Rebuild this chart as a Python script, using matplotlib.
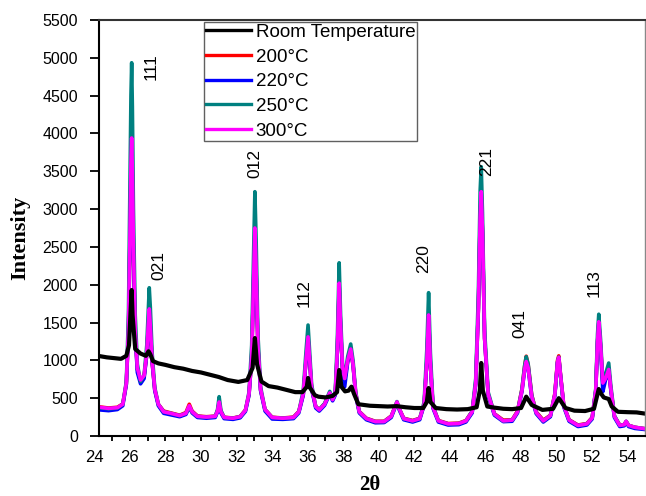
import matplotlib
matplotlib.use("Agg")
import matplotlib.pyplot as plt
from matplotlib.ticker import MultipleLocator
from matplotlib.transforms import blended_transform_factory, offset_copy

plt.rcParams["font.family"] = ["Liberation Sans", "DejaVu Sans"]

# 2-theta grid shared by the annealed samples
two_theta = [
    24.3, 24.8, 25.3, 25.6, 25.8, 25.92, 26.0, 26.06, 26.1, 26.14,
    26.2, 26.3, 26.42, 26.6, 26.8, 26.95, 27.03, 27.09, 27.15, 27.25,
    27.4, 27.6, 27.9, 28.3, 28.8, 29.15, 29.34, 29.5, 29.8, 30.3,
    30.8, 30.93, 31.02, 31.12, 31.3, 31.8, 32.2, 32.5, 32.7, 32.85,
    32.95, 33.03, 33.1, 33.2, 33.35, 33.6, 34.0, 34.6, 35.2, 35.5,
    35.75, 35.9, 36.02, 36.1, 36.22, 36.45, 36.65, 36.95, 37.24, 37.4,
    37.55, 37.67, 37.77, 37.85, 37.96, 38.08, 38.25, 38.42, 38.55, 38.7,
    38.9, 39.3, 39.8, 40.3, 40.7, 40.9, 41.02, 41.15, 41.4, 41.9,
    42.3, 42.55, 42.7, 42.8, 42.9, 43.05, 43.35, 43.9, 44.5, 44.9,
    45.25, 45.45, 45.6, 45.7, 45.76, 45.83, 45.95, 46.15, 46.5, 47.0,
    47.5, 47.8, 48.05, 48.2, 48.29, 48.4, 48.6, 48.85, 49.25, 49.65,
    49.9, 50.05, 50.12, 50.22, 50.4, 50.7, 51.2, 51.7, 52.0, 52.2,
    52.3, 52.37, 52.47, 52.6, 52.75, 52.93, 53.05, 53.25, 53.55, 53.8,
    53.91, 54.05, 54.4, 55.0,
]

i_200 = [
    385, 370, 380, 425, 690, 1350, 2500, 3450, 3800, 3400,
    2400, 1350, 880, 720, 790, 1080, 1420, 1640, 1420, 980,
    610, 420, 330, 305, 275, 310, 420, 330, 265, 255,
    262, 330, 440, 320, 248, 238, 258, 345, 550, 1030,
    1950, 2700, 2150, 1180, 610, 350, 248, 238, 250, 325,
    550, 980, 1290, 1030, 630, 390, 348, 425, 565, 480,
    555, 1130, 1980, 1420, 880, 740, 990, 1130, 940, 555,
    325, 235, 195, 195, 265, 380, 445, 360, 235, 205,
    235, 415, 980, 1570, 940, 380, 205, 165, 170, 205,
    325, 700, 1680, 2870, 3190, 2680, 1290, 550, 295, 210,
    215, 330, 620, 920, 1055, 940, 540, 320, 210, 275,
    560, 1000, 1060, 810, 405, 215, 145, 165, 245, 600,
    1230, 1490, 1190, 695, 750, 870, 615, 260, 145, 150,
    190, 140, 115, 95,
]

i_220 = [
    345, 335, 350, 400, 680, 1380, 2550, 3550, 3900, 3450,
    2450, 1350, 840, 690, 760, 1080, 1430, 1660, 1430, 980,
    600, 400, 300, 280, 255, 285, 380, 305, 245, 235,
    245, 320, 430, 305, 230, 220, 240, 325, 540, 1030,
    1980, 2720, 2180, 1180, 600, 330, 225, 220, 230, 305,
    540, 980, 1290, 1030, 620, 370, 330, 405, 555, 465,
    540, 1130, 2000, 1420, 870, 650, 980, 1140, 940, 540,
    305, 215, 175, 178, 245, 365, 440, 345, 215, 185,
    215, 410, 990, 1590, 940, 365, 185, 145, 150, 185,
    305, 690, 1690, 2890, 3210, 2690, 1290, 535, 275, 190,
    195, 305, 590, 870, 1000, 890, 505, 295, 185, 255,
    535, 970, 1030, 790, 385, 195, 125, 145, 225, 590,
    1240, 1500, 1180, 586, 740, 870, 600, 245, 125, 135,
    180, 125, 100, 85,
]

i_250 = [
    375, 360, 370, 420, 720, 1600, 3200, 4500, 4935, 4350,
    3000, 1600, 950, 720, 800, 1200, 1650, 1960, 1700, 1100,
    640, 420, 320, 300, 270, 300, 390, 320, 260, 250,
    260, 350, 520, 340, 245, 235, 255, 340, 580, 1200,
    2350, 3230, 2600, 1350, 650, 350, 245, 235, 245, 320,
    600, 1100, 1467, 1150, 680, 390, 350, 430, 590, 490,
    580, 1300, 2290, 1600, 950, 760, 1050, 1216, 1000, 580,
    320, 230, 190, 190, 260, 380, 455, 360, 230, 200,
    230, 450, 1150, 1895, 1100, 400, 200, 160, 165, 200,
    330, 760, 1900, 3250, 3560, 2950, 1400, 580, 290, 200,
    210, 320, 620, 930, 1049, 950, 540, 310, 200, 270,
    550, 980, 1045, 800, 400, 210, 140, 160, 240, 620,
    1350, 1610, 1280, 720, 820, 965, 660, 270, 140, 150,
    195, 140, 115, 95,
]

i_300 = [
    380, 365, 375, 420, 700, 1400, 2600, 3600, 3940, 3500,
    2500, 1400, 900, 740, 800, 1100, 1450, 1680, 1450, 1000,
    620, 420, 320, 300, 270, 300, 400, 320, 260, 250,
    260, 330, 450, 320, 245, 235, 255, 340, 560, 1050,
    2000, 2750, 2200, 1200, 620, 350, 245, 235, 245, 320,
    560, 1000, 1310, 1050, 640, 390, 345, 420, 570, 480,
    560, 1150, 2020, 1450, 900, 760, 1000, 1150, 950, 560,
    320, 230, 190, 190, 260, 380, 450, 360, 230, 200,
    230, 420, 1000, 1600, 950, 380, 200, 160, 165, 200,
    320, 700, 1700, 2900, 3230, 2700, 1300, 550, 290, 200,
    210, 320, 600, 880, 985, 900, 520, 310, 200, 270,
    550, 980, 1040, 800, 400, 210, 140, 160, 240, 600,
    1250, 1510, 1200, 700, 760, 880, 620, 260, 140, 150,
    195, 140, 115, 95,
]

# room temperature sample (as deposited)
two_theta_rt = [
    24.2, 24.7, 25.1, 25.5, 25.8, 25.95, 26.05, 26.1, 26.15, 26.3,
    26.6, 26.9, 27.05, 27.15, 27.3, 27.6, 28.0, 28.5, 29.0, 29.5,
    30.0, 30.5, 31.0, 31.5, 32.1, 32.6, 32.9, 33.03, 33.15, 33.4,
    33.8, 34.3, 34.8, 35.3, 35.7, 35.95, 36.02, 36.12, 36.4, 36.6,
    37.0, 37.4, 37.65, 37.77, 37.9, 38.1, 38.3, 38.46, 38.6, 38.85,
    39.5, 40.0, 40.5, 41.0, 41.5, 42.0, 42.5, 42.7, 42.8, 42.9,
    43.2, 43.8, 44.4, 45.0, 45.5, 45.68, 45.76, 45.85, 46.1, 46.5,
    47.0, 47.5, 48.0, 48.29, 48.6, 49.2, 49.8, 50.12, 50.5, 51.0,
    51.6, 52.1, 52.37, 52.5, 52.65, 52.93, 53.1, 53.45, 54.0, 54.5,
    55.0,
]
i_rt = [
    1060, 1040, 1030, 1020, 1060, 1200, 1700, 1930, 1600, 1150,
    1090, 1060, 1120, 1080, 990, 960, 940, 910, 890, 860,
    840, 810, 780, 740, 715, 740, 900, 1295, 950, 720,
    660, 640, 610, 580, 580, 650, 767, 640, 540, 520,
    510, 530, 580, 872, 650, 590, 600, 652, 560, 420,
    400, 395, 390, 395, 380, 370, 370, 450, 634, 450,
    370, 355, 350, 355, 380, 600, 965, 600, 390, 375,
    360, 355, 370, 520, 410, 345, 360, 500, 370, 335,
    330, 360, 621, 560, 510, 489, 390, 320, 315, 312,
    295,
]

# (hkl) labels: text, 2-theta, intensity of the label centre
hkl_labels = ["111", "021", "012", "112", "220", "221", "041", "113"]
hkl_x = [27.19, 27.63, 33.03, 35.8, 42.52, 46.05, 47.95, 52.13]
hkl_y = [4880, 2260, 3605, 1886, 2349, 3635, 1490, 2019]

x_min, x_max = 24.28, 54.97

W, H = 646, 496
fig = plt.figure(figsize=(W / 100, H / 100), dpi=100)
ax = fig.add_axes([99.3 / W, 60 / H, 545.7 / W, 416 / H])

lw = 2.6
l200, = ax.plot(two_theta, i_200, color="#ff0000", lw=lw, label="200\u00b0C")
l220, = ax.plot(two_theta, i_220, color="#0000ff", lw=lw, label="220\u00b0C")
l250, = ax.plot(two_theta, i_250, color="#008080", lw=lw, label="250\u00b0C")
l300, = ax.plot(two_theta, i_300, color="#ff00ff", lw=lw, label="300\u00b0C")
lrt, = ax.plot(two_theta_rt, i_rt, color="black", lw=3.0, label="Room Temperature")

for txt, x, y in zip(hkl_labels, hkl_x, hkl_y):
    ax.text(x, y, txt, rotation=90, ha="center", va="center", fontsize=12.5)

ax.set_xlim(x_min, x_max)
ax.set_ylim(0, 5500)
ax.xaxis.set_major_locator(MultipleLocator(2))
ax.xaxis.set_minor_locator(MultipleLocator(1))
ax.yaxis.set_major_locator(MultipleLocator(500))

x_tick_len, x_pad = 3.6, 6.5
ax.tick_params(axis="x", which="both", direction="out", length=x_tick_len,
               width=1.3, labelsize=12, pad=x_pad)
ax.tick_params(axis="y", direction="out", length=6.5, width=1.3,
               labelsize=11.5, pad=9)
ax.tick_params(top=False, right=False)

# the first label (24) sits just left of the axis start in the original
trans = offset_copy(blended_transform_factory(ax.transData, ax.transAxes),
                    fig=fig, y=-(x_tick_len + x_pad), units="points")
ax.text(24, 0, "24", transform=trans, ha="center", va="top", fontsize=12,
        clip_on=False)

for side in ["left", "bottom"]:
    ax.spines[side].set_linewidth(1.5)
ax.spines["top"].set_color("#333333")
ax.spines["top"].set_linewidth(1.5)
ax.spines["right"].set_color("#888888")
ax.spines["right"].set_linewidth(1.0)

ax.set_xlabel("2\u03b8", family=["Liberation Serif", "DejaVu Serif"],
              fontweight="bold", fontsize=15, va="center")
ax.xaxis.set_label_coords((370 - 99.3) / 545.7, (436 - 485) / 416)
ax.set_ylabel("Intensity", family=["Liberation Serif", "DejaVu Serif"],
              fontweight="bold", fontsize=16, va="center")
ax.yaxis.set_label_coords((20 - 99.3) / 545.7, (436 - 238) / 416)

leg = ax.legend(handles=[lrt, l200, l220, l250, l300], loc="upper left",
                bbox_to_anchor=(204 / W, 1 - 22 / H), bbox_transform=fig.transFigure,
                fontsize=13.5, handlelength=2.4, handletextpad=0.26,
                borderpad=0.1, labelspacing=0.4, borderaxespad=0,
                fancybox=False, framealpha=1)
leg.get_frame().set_edgecolor("#606060")
leg.get_frame().set_linewidth(1.0)
for line in leg.get_lines():
    line.set_linewidth(2.4)

fig.savefig("out.png", dpi=100)
